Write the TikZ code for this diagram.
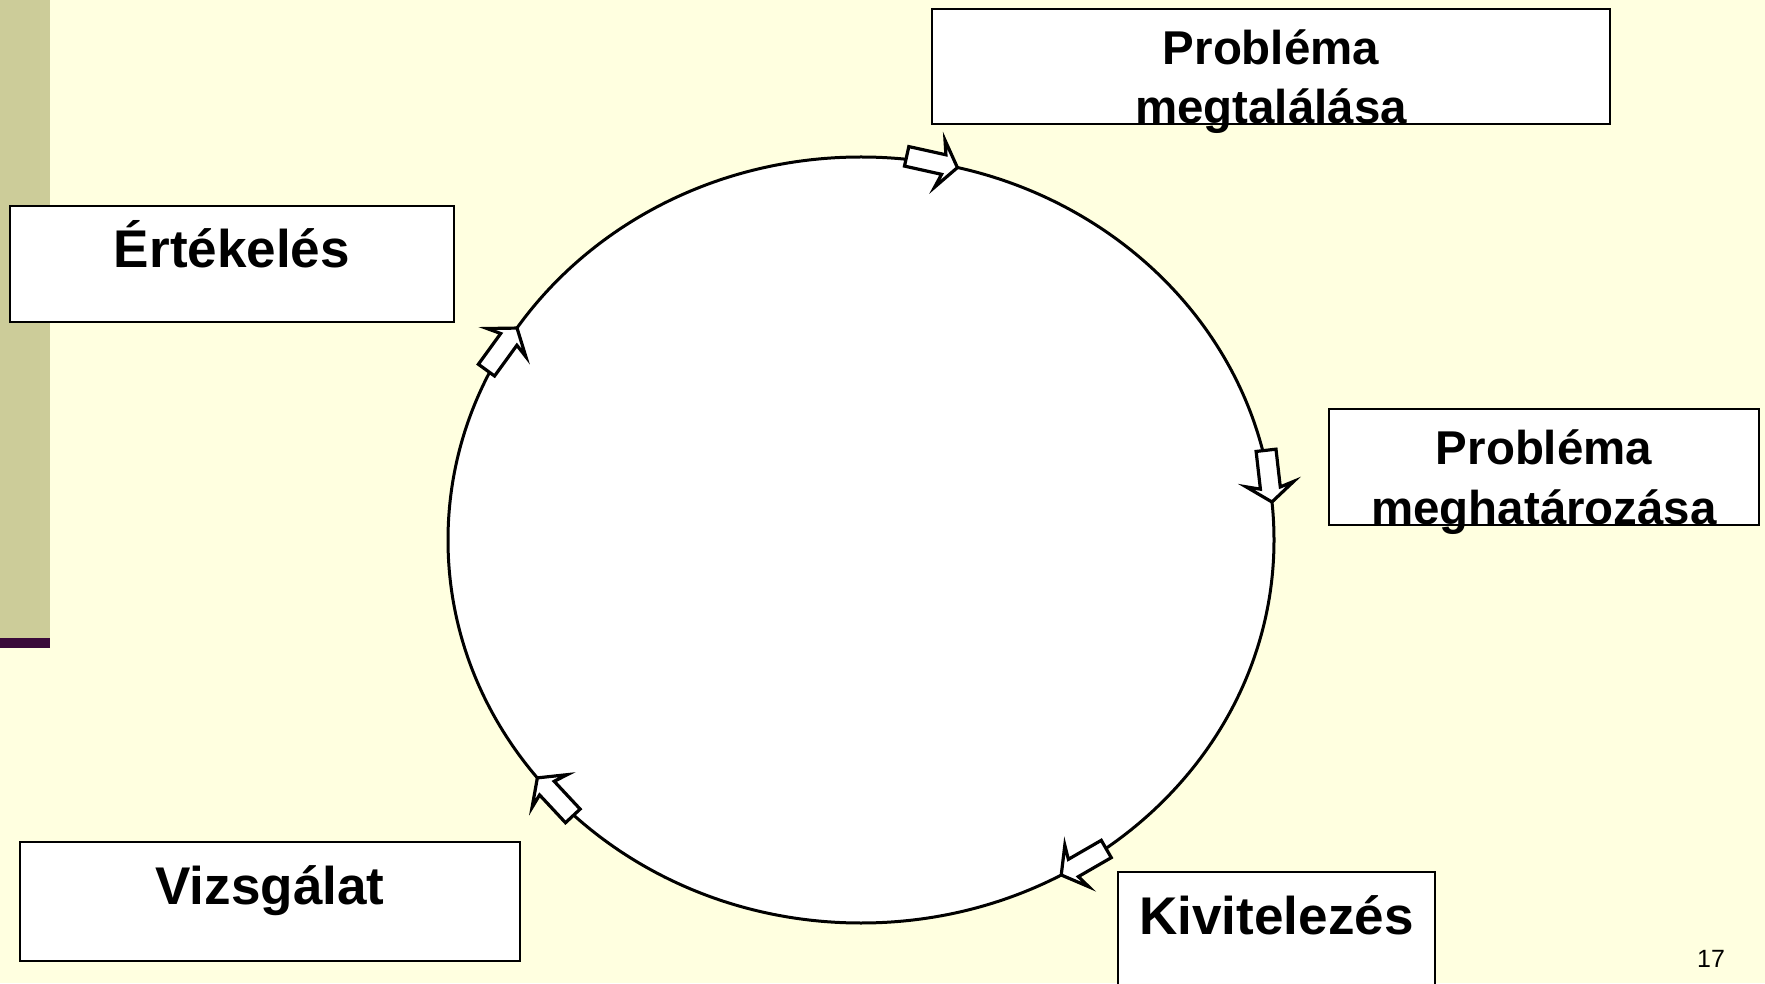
\documentclass[tikz,border=0pt]{standalone}
\usepackage{fontspec}
\setmainfont{Liberation Sans}
\usetikzlibrary{calc}
\definecolor{paper}{HTML}{FFFFE0}
\definecolor{sidebar}{HTML}{CCCC99}
\definecolor{sidestripe}{HTML}{3A0A3A}
\tikzset{
  stagebox/.style={draw=black, fill=white, line width=0.2mm, inner sep=0pt},
  biglabel/.style={inner sep=0pt, anchor=base, font=\fontsize{15.1pt}{18pt}\selectfont\bfseries},
  twolabel/.style={inner sep=0pt, anchor=base, font=\fontsize{13.5pt}{16pt}\selectfont\bfseries},
  cycleline/.style={draw=black, line width=0.3mm},
  blockarrow/.style={draw=black, fill=white, line width=0.32mm, line join=miter},
}
% block arrow sitting on the cycle: #1 = angle on the ellipse, #2 = heading
\newcommand\cyclearrow[2]{%
  \begin{scope}[shift={($(cycle)+(#1:413 and 383)$)}, rotate=#2]
    \path[blockarrow] (0,0) -- (-18,24) -- (-14,10) -- (-52,10) -- (-52,-10)
      -- (-14,-10) -- (-18,-24) -- cycle;
  \end{scope}}
\begin{document}
\begin{tikzpicture}[x=0.1mm, y=0.1mm]
  \clip (0,0) rectangle (1765,983);
  \fill[paper] (0,0) rectangle (1765,983);
  % side bar
  \fill[sidebar] (0,345) rectangle (50,983);
  \fill[sidestripe] (0,335) rectangle (50,345);

  % the cycle
  \coordinate (cycle) at (861,443);
  \draw[cycleline, fill=white] (cycle) ellipse [x radius=413, y radius=383];
  \cyclearrow{76.5}{-12.5}
  \cyclearrow{5.7}{-83.5}
  \cyclearrow{-61}{-150}
  \cyclearrow{218.4}{133}
  \cyclearrow{146.4}{54}

  % stages
  \node[stagebox, minimum width=67.8mm, minimum height=11.5mm] (find) at (1271,916.5) {};
  \node[twolabel] (findA) at (1271,918) {Probléma};
  \node[twolabel] (findB) at (1271,859) {megtalálása};

  \node[stagebox, minimum width=43mm, minimum height=11.6mm] (define) at (1544,516) {};
  \node[twolabel] (defineA) at (1544,518) {Probléma};
  \node[twolabel] (defineB) at (1544,459) {meghatározása};

  \node[stagebox, minimum width=31.7mm, minimum height=13.1mm] (exec) at (1276.5,45.5) {};
  \node[biglabel] (execA) at (1276.5,49) {Kivitelezés};

  \node[stagebox, minimum width=50mm, minimum height=11.9mm] (exam) at (270,81.5) {};
  \node[biglabel] (examA) at (270,79) {Vizsgálat};

  \node[stagebox, minimum width=44.4mm, minimum height=11.6mm] (eval) at (232,719) {};
  \node[biglabel] (evalA) at (232,715) {Értékelés};

  % page number
  \node[inner sep=0pt, anchor=base, font=\fontsize{7.1pt}{8pt}\selectfont] (pageno) at (1711,16) {17};
\end{tikzpicture}
\end{document}
